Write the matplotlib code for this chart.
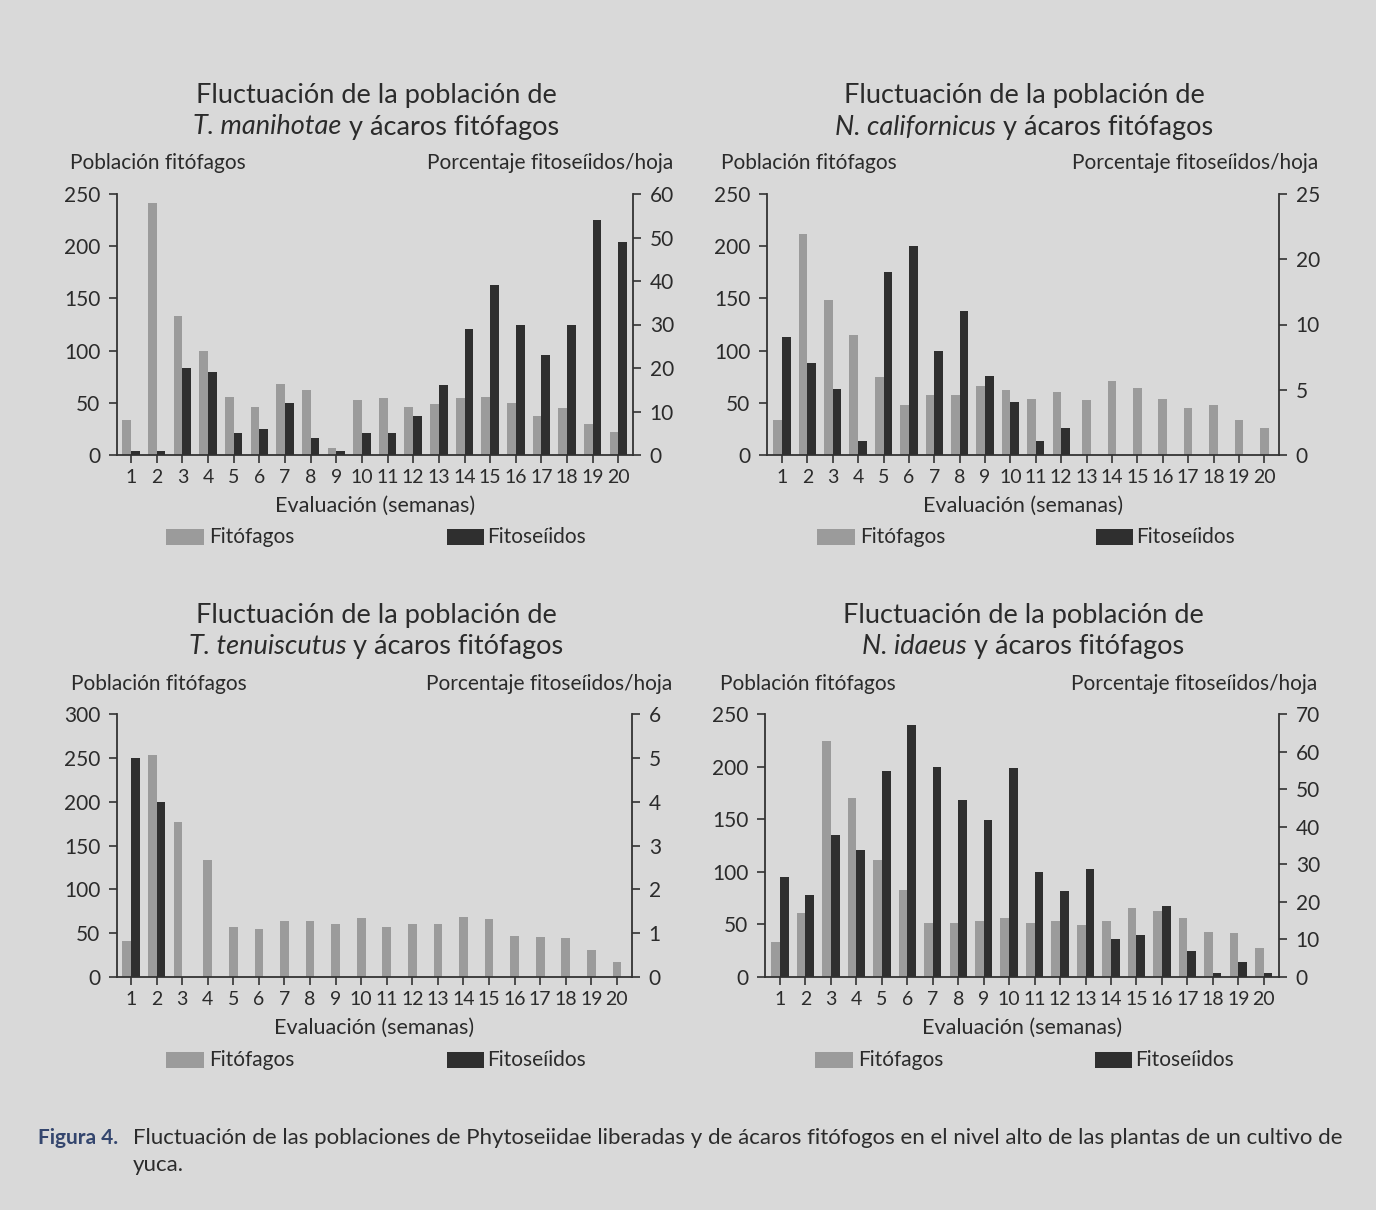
import numpy as np
import matplotlib
matplotlib.use("Agg")
import matplotlib.pyplot as plt
from matplotlib.patches import Rectangle

# ---------------- data ----------------
semanas = list(range(1, 21))
xtick_labels = [str(s) for s in semanas]

fitofagos_1 = [34, 241, 133, 100, 56, 46, 68, 62, 7, 53, 55, 46, 49, 55, 56, 50, 37, 45, 30, 22]
fitoseidos_1 = [1, 1, 20, 19, 5, 6, 12, 4, 1, 5.1, 5, 9, 16, 29, 39, 30, 23, 30, 54, 49]

fitofagos_2 = [34, 212, 148, 115, 75, 48, 57, 57, 66, 62, 54, 60, 53, 71, 64, 54, 45, 48, 34, 26]
fitoseidos_2 = [11.3, 8.8, 6.3, 1.3, 17.5, 20.0, 10.0, 13.8, 7.6, 5.1, 1.3, 2.6,
                None, None, None, None, None, None, None, None]

fitofagos_3 = [41, 253, 177, 133, 57, 55, 64, 64, 60, 67, 57, 60, 60, 69, 66, 47, 46, 44, 31, 17]
fitoseidos_3 = [5.0, 4.0, 0, None, None, None, None, None, None, None,
                None, None, None, None, None, None, None, None, None, None]

fitofagos_4 = [33, 61, 224, 170, 111, 83, 51, 51, 53, 56, 51, 53, 49, 53, 66, 63, 56, 43, 42, 28]
fitoseidos_4 = [26.7, 21.7, 37.7, 33.7, 54.8, 67.0, 55.8, 47.0, 41.7, 55.7,
                27.9, 22.8, 28.7, 10.1, 11.2, 19.0, 7.0, 1.0, 4.1, 1.0]

especies = ["T. manihotae", "N. californicus", "T. tenuiscutus", "N. idaeus"]

left_ticks_1 = [0, 50, 100, 150, 200, 250]
right_ticks_1 = [0, 10, 20, 30, 40, 50, 60]
left_ticks_2 = [0, 50, 100, 150, 200, 250]
right_ticks_2 = [0, 6.25, 12.5, 18.75, 25]
right_labels_2 = ["0", "5", "10", "20", "25"]
left_ticks_3 = [0, 50, 100, 150, 200, 250, 300]
right_ticks_3 = [0, 1, 2, 3, 4, 5, 6]
left_ticks_4 = [0, 50, 100, 150, 200, 250]
right_ticks_4 = [0, 10, 20, 30, 40, 50, 60, 70]

# ---------------- style ----------------
W, H = 1376, 1210
BG = "#d9d9d9"
LIGHT = "#9b9b9b"
DARK = "#2f2f2f"
TXT = "#2b2b2b"
FONT = "Lato"
plt.rcParams["font.family"] = [FONT, "DejaVu Sans"]

fig = plt.figure(figsize=(W / 100, H / 100), dpi=100, facecolor=BG)


def fx(px):
    return px / W


def fy(py):
    return 1 - py / H


def add_text(x, y, s, size, ha="left", style="normal", weight="normal", color=TXT):
    return fig.text(fx(x), fy(y), s, fontsize=size, ha=ha, va="center",
                    fontstyle=style, fontweight=weight, color=color)


renderer = fig.canvas.get_renderer()


def title_line2(cx, y, italic, rest, size):
    t1 = fig.text(0, fy(y), italic, fontsize=size, ha="left", va="center",
                  fontstyle="italic", color=TXT)
    t2 = fig.text(0, fy(y), rest, fontsize=size, ha="left", va="center", color=TXT)
    w1 = t1.get_window_extent(renderer).width
    w2 = t2.get_window_extent(renderer).width
    x0 = cx - (w1 + w2) / 2
    t1.set_x(fx(x0))
    t2.set_x(fx(x0 + w1))


def panel(rect_px, xlim, fitof, fitos, lticks, lmax, rticks, rmax, rlabels=None):
    l, r, t, b = rect_px
    ax = fig.add_axes([fx(l), fy(b), fx(r) - fx(l), fy(t) - fy(b)])
    ax2 = ax.twinx()
    ax.set_facecolor("none")
    ax2.set_facecolor("none")
    w = 0.34
    xs = np.array(semanas, dtype=float)
    for i, x in enumerate(xs):
        has_dark = fitos[i] is not None
        lx = x - w / 2 if has_dark else x
        ax.bar(lx, fitof[i], width=w, color=LIGHT, linewidth=0)
        if has_dark:
            ax2.bar(x + w / 2, fitos[i], width=w, color=DARK, linewidth=0)
    ax.set_xlim(*xlim)
    ax.set_ylim(0, lmax)
    ax2.set_ylim(0, rmax)
    ax.set_yticks(lticks)
    ax.set_yticklabels([str(v) for v in lticks])
    ax2.set_yticks(rticks)
    ax2.set_yticklabels(rlabels if rlabels else [str(v) for v in rticks])
    ax.set_xticks(xs)
    ax.set_xticklabels(xtick_labels)
    for a in (ax, ax2):
        a.spines["top"].set_visible(False)
        for sp in ("left", "right", "bottom"):
            a.spines[sp].set_color("#333333")
            a.spines[sp].set_linewidth(1.3)
    ax2.spines["left"].set_visible(False)
    ax2.spines["bottom"].set_visible(False)
    ax.spines["right"].set_visible(False)
    ax.tick_params(axis="y", direction="out", length=6, width=1.2, colors="#333333",
                   labelsize=15, pad=6, labelcolor=TXT)
    ax.tick_params(axis="x", direction="out", length=6, width=1.2, colors="#333333",
                   labelsize=14, pad=4, labelcolor=TXT)
    ax2.tick_params(axis="y", direction="out", length=6, width=1.2, colors="#333333",
                    labelsize=15, pad=6, labelcolor=TXT)
    ax.set_zorder(ax2.get_zorder() - 1)
    return ax, ax2


def legend(y, lx, dx):
    ph = 16
    fig.add_artist(Rectangle((fx(lx), fy(y + ph / 2)), fx(38), ph / H,
                             transform=fig.transFigure, color=LIGHT, linewidth=0))
    add_text(lx + 43, y, "Fitófagos", 15)
    fig.add_artist(Rectangle((fx(dx), fy(y + ph / 2)), fx(37), ph / H,
                             transform=fig.transFigure, color=DARK, linewidth=0))
    add_text(dx + 40, y, "Fitoseíidos", 15)


TS = 19.5
LS = 15

configs = [
    dict(rect=(117, 633, 194, 455), xlim=(0.45, 20.57), fitof=fitofagos_1, fitos=fitoseidos_1,
         lt=left_ticks_1, lmax=250, rt=right_ticks_1, rmax=60, rl=None,
         cx=376, ty=96, lab_l=70, lab_r=673, lab_y=163, xl_y=506, leg=(537, 166, 447)),
    dict(rect=(767, 1279, 194, 455), xlim=(0.41, 20.58), fitof=fitofagos_2, fitos=fitoseidos_2,
         lt=left_ticks_2, lmax=250, rt=right_ticks_2, rmax=25, rl=right_labels_2,
         cx=1024, ty=96, lab_l=721, lab_r=1318, lab_y=163, xl_y=506, leg=(537, 817, 1096)),
    dict(rect=(117, 632, 714, 977), xlim=(0.45, 20.59), fitof=fitofagos_3, fitos=fitoseidos_3,
         lt=left_ticks_3, lmax=300, rt=right_ticks_3, rmax=6, rl=None,
         cx=376, ty=616, lab_l=71, lab_r=672, lab_y=684, xl_y=1028, leg=(1060, 166, 447)),
    dict(rect=(765, 1279, 714, 977), xlim=(0.41, 20.6), fitof=fitofagos_4, fitos=fitoseidos_4,
         lt=left_ticks_4, lmax=250, rt=right_ticks_4, rmax=70, rl=None,
         cx=1023, ty=616, lab_l=720, lab_r=1317, lab_y=684, xl_y=1028, leg=(1060, 815, 1095)),
]

for c, sp in zip(configs, especies):
    panel(c["rect"], c["xlim"], c["fitof"], c["fitos"], c["lt"], c["lmax"],
          c["rt"], c["rmax"], c["rl"])
    add_text(c["cx"], c["ty"], "Fluctuación de la población de", TS, ha="center")
    title_line2(c["cx"], c["ty"] + 31, sp, " y ácaros fitófagos", TS)
    add_text(c["lab_l"], c["lab_y"], "Población fitófagos", LS)
    add_text(c["lab_r"], c["lab_y"], "Porcentaje fitoseíidos/hoja", LS, ha="right")
    l, r = c["rect"][0], c["rect"][1]
    add_text((l + r) / 2, c["xl_y"], "Evaluación (semanas)", 15.5, ha="center")
    legend(*c["leg"])

add_text(38, 1138, "Figura 4.", 15, weight="bold", color="#34466e")
add_text(133, 1138, "Fluctuación de las poblaciones de Phytoseiidae liberadas y de ácaros fitófogos "
         "en el nivel alto de las plantas de un cultivo de", 16)
add_text(133, 1165, "yuca.", 16)

fig.savefig("out.png", dpi=100, facecolor=BG)
